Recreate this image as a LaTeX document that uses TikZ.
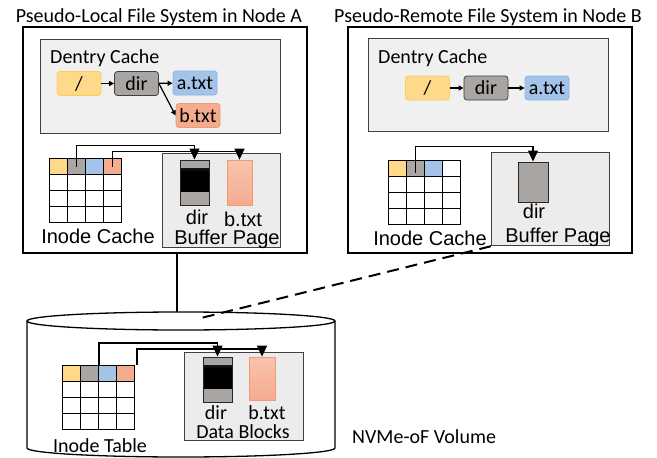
\documentclass[tikz,border=0pt]{standalone}
\usepackage{fontspec}
\setmainfont{Carlito}
\newfontfamily\arialfont{Liberation Sans}
\usetikzlibrary{arrows.meta}
\definecolor{yelfill}{HTML}{FFD98A}
\definecolor{yeledge}{HTML}{FFCC55}
\definecolor{gryfill}{HTML}{A8A5A3}
\definecolor{blufill}{HTML}{A4C3E9}
\definecolor{bluedge}{HTML}{8DB3E2}
\definecolor{salfill}{HTML}{F5AB8D}
\definecolor{saledge}{HTML}{EE9B7B}
\definecolor{saltop}{HTML}{F8C4AD}
\definecolor{cachegray}{HTML}{F0F0F0}
\definecolor{pagegray}{HTML}{ECECEC}
% dark band across a cached dir page
\pgfdeclareverticalshading{dirband}{100bp}{color(0bp)=(black!60); color(25bp)=(black!60);
  color(33bp)=(black); color(62bp)=(black); color(75bp)=(black!75); color(100bp)=(black!75)}
% one inode table: name prefix, left, top, header colours
\newcommand{\inodetab}[4]{%
  \foreach \col [count=\i] in {#4}
    \node[cell, fill=\col] (#1\i) at ({#2+18*(\i-1)},#3) {};
  \foreach \r in {1,2,3}
    \foreach \i in {1,...,4}
      \node[cell] at ({#2+18*(\i-1)},{#3+16*\r}) {};
}

\begin{document}
\begin{tikzpicture}[x=1pt,y=-1pt,font=\fontsize{20}{22}\selectfont,
    txt/.style={inner sep=0pt, anchor=base},
    arl/.style={txt, font=\arialfont\fontsize{20}{22}\selectfont},
    fsbox/.style={draw, line width=1.6pt, anchor=north west, inner sep=0pt},
    cachebox/.style={draw=black!75, fill=cachegray, line width=1.2pt, anchor=north west, inner sep=0pt},
    pagebox/.style={draw=black!75, fill=pagegray, line width=1.2pt, anchor=north west, inner sep=0pt},
    dent/.style={rounded corners=3pt, minimum width=44pt, minimum height=24pt, line width=0.8pt, inner sep=0pt},
    cell/.style={draw, fill=white, line width=1pt, minimum width=18pt, minimum height=16pt, anchor=north west, inner sep=0pt},
    page/.style={draw=black!85, fill=gryfill, line width=1pt, inner sep=0pt, minimum width=29pt, minimum height=45pt},
    dirpage/.style={page, path picture={
        \shade[shading=dirband]
          ([yshift=-8pt]path picture bounding box.north west) rectangle
          ([yshift=14pt]path picture bounding box.south east);}},
    salpage/.style={draw=saledge, top color=saltop, bottom color=salfill, line width=0.8pt, inner sep=0pt, minimum width=25pt, minimum height=45pt},
    lnk/.style={line width=1.2pt, -{Triangle[length=5pt,width=5pt]}},
    ptr/.style={line width=1.5pt, -{Triangle[length=11pt,width=10pt]}}]
  \useasboundingbox (0,0) rectangle (657,458);

  % node A
  \node[txt] (titleA) at (159,22) {Pseudo-Local File System in Node A};
  \node[fsbox, minimum width=284pt, minimum height=226pt] (fsA) at (22,26) {};
  \node[cachebox, minimum width=240pt, minimum height=94pt] (dcA) at (40,39) {};
  \node[txt, anchor=base west] at (50,63) {Dentry Cache};
  \node[dent, fill=yelfill, draw=yeledge] (rootA) at (79,83.5) {/};
  \node[dent, fill=gryfill, draw=black!75] (dirA) at (136.5,83.5) {dir};
  \node[dent, fill=blufill, draw=bluedge] (aA) at (195,83) {a.txt};
  \node[dent, fill=salfill, draw=saledge] (bA) at (198,115.5) {b.txt};
  \draw[lnk] (rootA) -- (dirA);
  \draw[lnk] (dirA) -- (aA);
  \draw[lnk] (dirA.east) -- (bA.west);
  \inodetab{tA}{49}{158}{yelfill,gryfill,blufill,salfill}
  \node[arl] at (98,243) {Inode Cache};
  \node[pagebox, minimum width=118pt, minimum height=94pt] (bufA) at (162,153) {};
  \node[dirpage] (pdA) at (194.5,182.5) {};
  \node[salpage] (pbA) at (239.5,182.5) {};
  \node[arl] at (197,224) {dir};
  \node[arl] at (243,226) {b.txt};
  \node[arl] at (227,244) {Buffer Page};
  \draw[ptr] (tA2.center) -- ++(0,-21) -| (pdA.north);
  \draw[ptr] (tA4.center) -- ++(0,-15) -| (pbA.north);

  % node B
  \node[txt] (titleB) at (488,22) {Pseudo-Remote File System in Node B};
  \node[fsbox, minimum width=284pt, minimum height=226pt] (fsB) at (347,26) {};
  \node[cachebox, minimum width=240pt, minimum height=93pt] (dcB) at (368,38) {};
  \node[txt, anchor=base west] at (378,63) {Dentry Cache};
  \node[dent, fill=yelfill, draw=yeledge] (rootB) at (427.5,88) {/};
  \node[dent, fill=gryfill, draw=black!75] (dirB) at (486,88) {dir};
  \node[dent, fill=blufill, draw=bluedge] (aB) at (547,88) {a.txt};
  \draw[lnk] (rootB) -- (dirB);
  \draw[lnk] (dirB) -- (aB);
  \inodetab{tB}{388}{160}{yelfill,gryfill,blufill,white}
  \node[pagebox, minimum width=118pt, minimum height=93pt] (bufB) at (491,152) {};
  \node[arl] at (430,245) {Inode Cache};
  \node[page, minimum height=40pt, minimum width=30pt] (pdB) at (533,182) {};
  \node[arl] at (534,218) {dir};
  \node[arl] at (558,242) {Buffer Page};
  \draw[ptr] ([yshift=-4pt]tB2.center) -- ++(0,-26) -| (pdB.north);

  % NVMe-oF volume
  \draw[line width=1.3pt, fill=white] (27,321) -- (27,448)
    arc[start angle=180, end angle=0, x radius=154, y radius=9] -- (335,321);
  \draw[line width=1.3pt, fill=white] (181,321) ellipse [x radius=154, y radius=9];
  \coordinate (volA) at (177,312);
  \coordinate (volB) at (197,319);
  \inodetab{tV}{62}{365}{yelfill,gryfill,blufill,salfill}
  \node[txt] at (100,452) {Inode Table};
  \node[pagebox, minimum width=119pt, minimum height=88pt] (dataV) at (184,352) {};
  \node[dirpage] (pdV) at (217.5,379.5) {};
  \node[salpage, minimum width=26pt, minimum height=43pt] (pbV) at (262,378.5) {};
  \node[txt] at (216,419) {dir};
  \node[txt] at (267,419) {b.txt};
  \node[txt] at (243,438) {Data Blocks};
  \node[txt, anchor=base west] at (352,443) {NVMe-oF Volume};
  \draw[ptr] (tV2.north east) -- ++(0,-22) -| (pdV.north);
  \draw[ptr] ([xshift=2pt]tV4.north east) -- ++(0,-16) -| (pbV.north);

  % links to the volume
  \draw[line width=1.6pt] (fsA.south -| volA) -- (volA);
  \draw[line width=2pt, dash pattern=on 12pt off 7pt] (bufB.south west) -- (volB);
\end{tikzpicture}
\end{document}
